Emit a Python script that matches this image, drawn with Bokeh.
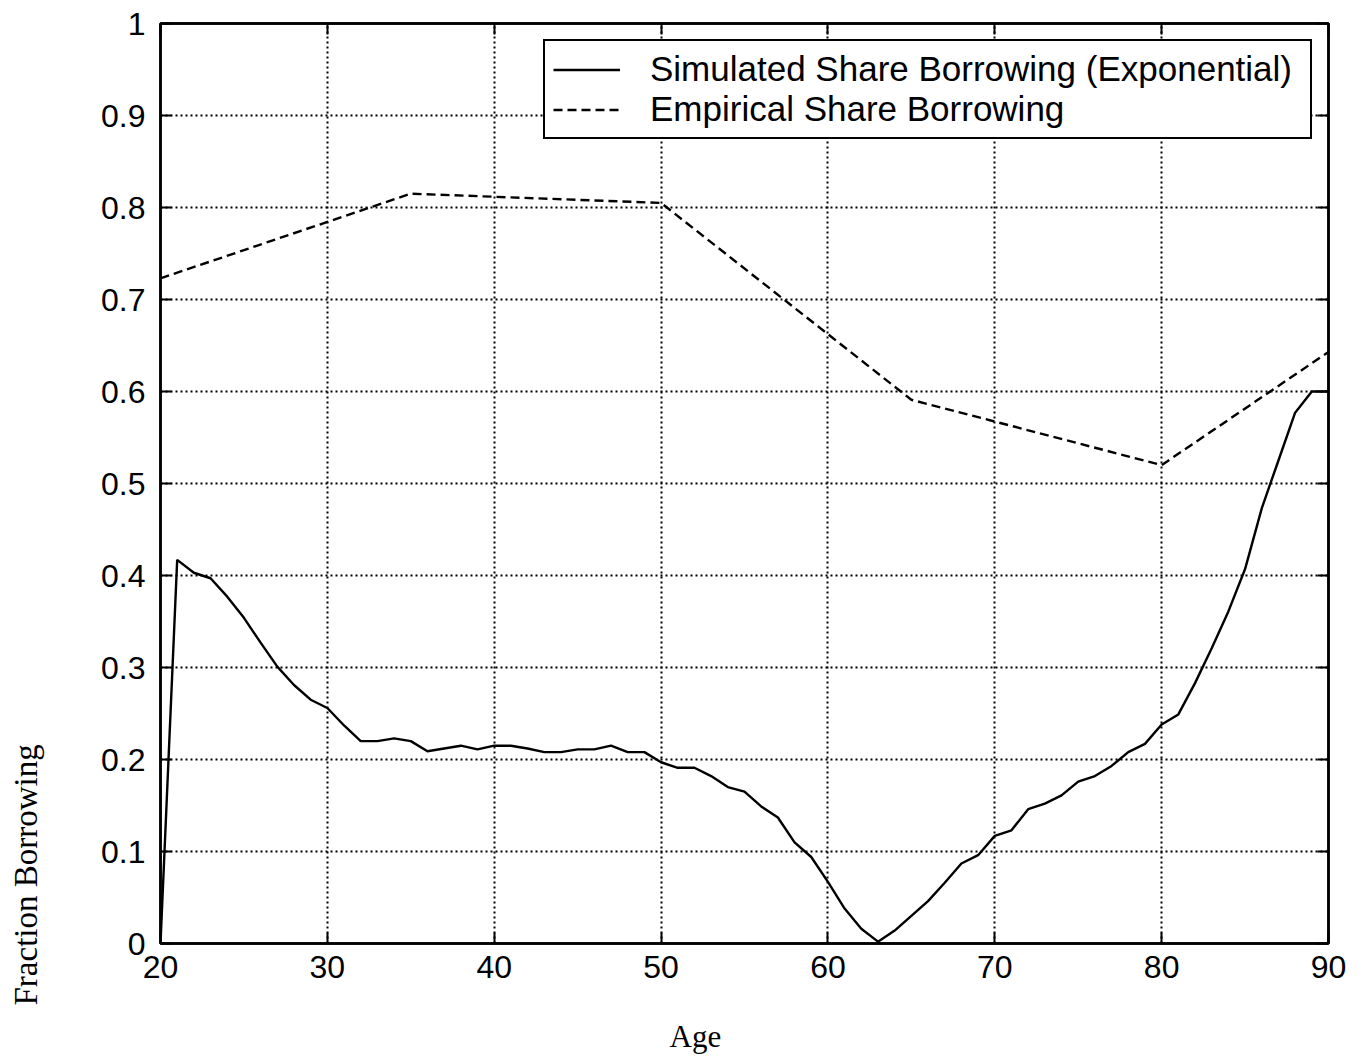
from bokeh.plotting import figure
from bokeh.models import (Range1d, LinearAxis, FixedTicker, NumeralTickFormatter,
                          Legend, LegendItem, Title)
from bokeh.embed import file_html
from bokeh.resources import INLINE

# ---------------- data ----------------
sim_ages = list(range(20, 91))
sim_share = [
    0.000, 0.417, 0.403, 0.397, 0.377, 0.354, 0.327, 0.301, 0.281, 0.265,   # 20-29
    0.256, 0.237, 0.220, 0.220, 0.223, 0.220, 0.209, 0.212, 0.215, 0.211,   # 30-39
    0.215, 0.215, 0.212, 0.208, 0.208, 0.211, 0.211, 0.215, 0.208, 0.208,   # 40-49
    0.197, 0.191, 0.191, 0.182, 0.170, 0.165, 0.149, 0.137, 0.110, 0.094,   # 50-59
    0.067, 0.038, 0.016, 0.002, 0.014, 0.030, 0.046, 0.066, 0.087, 0.096,   # 60-69
    0.117, 0.123, 0.146, 0.152, 0.161, 0.176, 0.182, 0.193, 0.208, 0.217,   # 70-79
    0.238, 0.249, 0.283, 0.321, 0.361, 0.407, 0.473, 0.525, 0.577, 0.600,   # 80-89
    0.600,                                                                  # 90
]
emp_ages = [20, 35, 50, 65, 80, 90]
emp_share = [0.723, 0.815, 0.805, 0.591, 0.520, 0.643]

x_ticks = [20, 30, 40, 50, 60, 70, 80, 90]
y_ticks = [0, 0.1, 0.2, 0.3, 0.4, 0.5, 0.6, 0.7, 0.8, 0.9, 1]

sim_label = "Simulated Share Borrowing (Exponential)"
emp_label = "Empirical Share Borrowing"
x_title = "Age"
y_title = "Fraction Borrowing"

# ---------------- figure ----------------
p = figure(width=1366, height=1057, output_backend="svg", toolbar_location=None,
           x_range=Range1d(20, 90), y_range=Range1d(0, 1),
           min_border_left=160, min_border_right=38, min_border_top=23,
           min_border_bottom=114)
p.background_fill_color = "white"
p.border_fill_color = "white"
p.outline_line_color = "black"
p.outline_line_width = 2.5

tick_font = "Liberation Sans"
tick_size = "32px"

xt = FixedTicker(ticks=x_ticks)
yt = FixedTicker(ticks=y_ticks)
fmt = NumeralTickFormatter(format="0.[0]")

for ax in p.xaxis:
    ax.ticker = xt
for ax in p.yaxis:
    ax.ticker = yt
    ax.formatter = fmt

def style_axis(ax, show_labels, standoff=12):
    ax.axis_line_color = "black"
    ax.axis_line_width = 2.5
    ax.major_tick_in = 11
    ax.major_tick_out = 0
    ax.major_tick_line_color = "black"
    ax.major_tick_line_width = 2
    ax.minor_tick_line_color = None
    ax.major_label_text_font = tick_font
    ax.major_label_text_color = "black"
    ax.major_label_standoff = standoff
    if show_labels:
        ax.major_label_text_font_size = tick_size
    else:
        ax.major_label_text_font_size = "0px"
        ax.major_label_text_color = None

for ax in p.xaxis:
    style_axis(ax, True, 12)
for ax in p.yaxis:
    style_axis(ax, True, 15)

top_axis = LinearAxis(ticker=xt)
style_axis(top_axis, False)
right_axis = LinearAxis(ticker=yt)
style_axis(right_axis, False)
p.add_layout(top_axis, "above")
p.add_layout(right_axis, "right")

for g in (p.xgrid, p.ygrid):
    g.grid_line_color = "black"
    g.grid_line_width = 2
    g.grid_line_dash = "2 3"
    g.grid_line_alpha = 1.0
p.xgrid.ticker = xt
p.ygrid.ticker = yt

# ---------------- lines ----------------
r_sim = p.line(sim_ages, sim_share, line_color="black", line_width=2.4)
r_emp = p.line(emp_ages, emp_share, line_color="black", line_width=2.4,
               line_dash="9 5")

legend = Legend(items=[LegendItem(label=sim_label, renderers=[r_sim]),
                       LegendItem(label=emp_label, renderers=[r_emp])],
                location="top_right")
legend.margin = 16
legend.padding = 8
legend.spacing = 0
legend.glyph_width = 67
legend.glyph_height = 37
legend.label_height = 37
legend.label_width = 652
legend.label_standoff = 30
legend.label_text_font = tick_font
legend.label_text_font_size = "35px"
legend.label_text_color = "black"
legend.border_line_color = "black"
legend.border_line_width = 2.5
legend.border_line_alpha = 1.0
legend.background_fill_color = "white"
legend.background_fill_alpha = 1.0
p.add_layout(legend, "center")

# ---------------- axis titles (spacers + titles in side panels) ----------------
left_spacer = Title(text=" ", text_font_size="2px", text_color="white", standoff=45)
p.add_layout(left_spacer, "left")
ytitle = Title(text=y_title, text_font="Liberation Serif", text_font_size="33px",
               text_font_style="normal", text_color="black",
               align="left", offset=-62, vertical_align="middle", standoff=10)
p.add_layout(ytitle, "left")

bottom_spacer = Title(text=" ", text_font_size="2px", text_color="white", standoff=31)
p.add_layout(bottom_spacer, "below")
xtitle = Title(text=x_title, text_font="Liberation Serif", text_font_size="31px",
               text_font_style="normal", text_color="black",
               align="left", offset=509, vertical_align="middle", standoff=4)
p.add_layout(xtitle, "below")

open("out.html", "w").write(file_html(p, INLINE))
